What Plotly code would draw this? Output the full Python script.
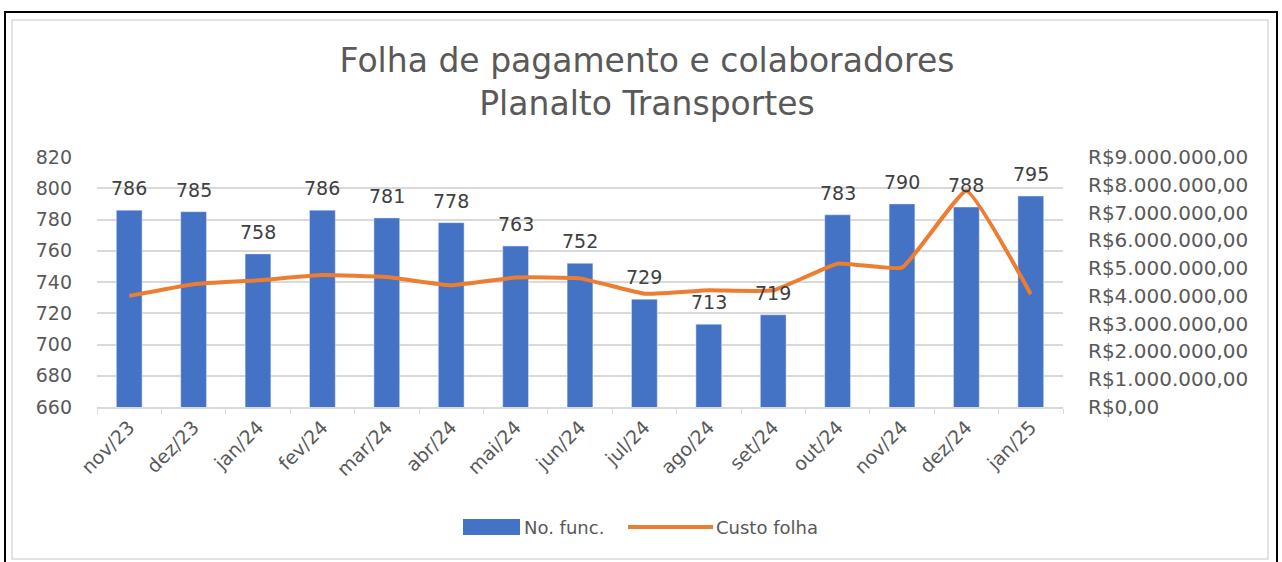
import plotly.graph_objects as go

months = ["nov/23", "dez/23", "jan/24", "fev/24", "mar/24", "abr/24", "mai/24", "jun/24",
          "jul/24", "ago/24", "set/24", "out/24", "nov/24", "dez/24", "jan/25"]
num_func = [786, 785, 758, 786, 781, 778, 763, 752, 729, 713, 719, 783, 790, 788, 795]
custo_folha = [4000000, 4420000, 4560000, 4750000, 4680000, 4380000, 4660000, 4630000,
               4080000, 4200000, 4200000, 5160000, 5020000, 7780000, 4060000]
left_ticks = [660, 680, 700, 720, 740, 760, 780, 800, 820]
right_ticks = [0, 1000000, 2000000, 3000000, 4000000, 5000000, 6000000, 7000000, 8000000, 9000000]
right_labels = ["R$0,00", "R$1.000.000,00", "R$2.000.000,00", "R$3.000.000,00", "R$4.000.000,00",
                "R$5.000.000,00", "R$6.000.000,00", "R$7.000.000,00", "R$8.000.000,00", "R$9.000.000,00"]
series_names = ["No. func.", "Custo folha"]

FONT = "DejaVu Sans"
GRAY = "#595959"
BLUE = "#4472C4"
ORANGE = "#ED7D31"

fig = go.Figure()
fig.add_trace(go.Bar(x=months, y=num_func, name=series_names[0], marker_color=BLUE, yaxis="y"))
fig.add_trace(go.Scatter(x=months, y=custo_folha, name=series_names[1], mode="lines",
                         line=dict(color=ORANGE, width=4, shape="spline", smoothing=0.35),
                         yaxis="y2"))

for m, v in zip(months, num_func):
    fig.add_annotation(x=m, y=v, xref="x", yref="y", text=str(v), showarrow=False,
                       yanchor="bottom", yshift=9, font=dict(family=FONT, size=19, color="#404040"))

W, H = 1282, 562
L, R, T, B = 97, 219, 157, 155
pw, ph = W - L - R, H - T - B

def px(x):
    return (x - L) / pw

def py(y):
    return (H - B - y) / ph

# chart frames
fig.add_shape(type="rect", xref="paper", yref="paper", x0=px(12), x1=px(1268), y0=py(559), y1=py(20),
              line=dict(color="#D9D9D9", width=1.5), layer="below")
fig.add_shape(type="rect", xref="paper", yref="paper", x0=px(5), x1=px(1277), y0=py(566), y1=py(12),
              line=dict(color="#000000", width=2), layer="below")

# custom legend
fig.add_shape(type="rect", xref="paper", yref="paper", x0=px(463), x1=px(520), y0=py(535), y1=py(519),
              fillcolor=BLUE, line=dict(width=0))
fig.add_annotation(xref="paper", yref="paper", x=px(522), y=py(527), text=series_names[0],
                   showarrow=False, xanchor="left", yanchor="middle",
                   font=dict(family=FONT, size=18, color=GRAY))
fig.add_shape(type="line", xref="paper", yref="paper", x0=px(628), x1=px(713), y0=py(527), y1=py(527),
              line=dict(color=ORANGE, width=4))
fig.add_annotation(xref="paper", yref="paper", x=px(714), y=py(527), text=series_names[1],
                   showarrow=False, xanchor="left", yanchor="middle",
                   font=dict(family=FONT, size=18, color=GRAY))

fig.update_layout(
    width=W, height=H,
    margin=dict(l=L, r=R, t=T, b=B),
    paper_bgcolor="white", plot_bgcolor="white",
    title=dict(text="Folha de pagamento e colaboradores<br>Planalto Transportes",
               x=647 / W, xanchor="center", y=1 - 72 / H, yanchor="top",
               font=dict(family=FONT, size=33, color=GRAY)),
    bargap=0.6,
    showlegend=False,
    xaxis=dict(tickangle=-45, tickfont=dict(family=FONT, size=19, color=GRAY),
               showline=True, linecolor="#D9D9D9", linewidth=1.5,
               ticks="outside", tickson="boundaries", ticklen=5, tickcolor="#D9D9D9",
               showgrid=False),
    yaxis=dict(range=[660, 820], tickvals=left_ticks, tickfont=dict(family=FONT, size=19, color=GRAY),
               showgrid=True, gridcolor="#D9D9D9", gridwidth=1.5, zeroline=False, ticklabelstandoff=24),
    yaxis2=dict(range=[0, 9000000], tickvals=right_ticks, ticktext=right_labels, overlaying="y",
                side="right", showgrid=False, zeroline=False,
                tickfont=dict(family=FONT, size=20, color=GRAY), ticklabelstandoff=24),
)

fig.write_html("out.html", config={"displayModeBar": False},
               post_script="document.body.style.margin='0px';")
